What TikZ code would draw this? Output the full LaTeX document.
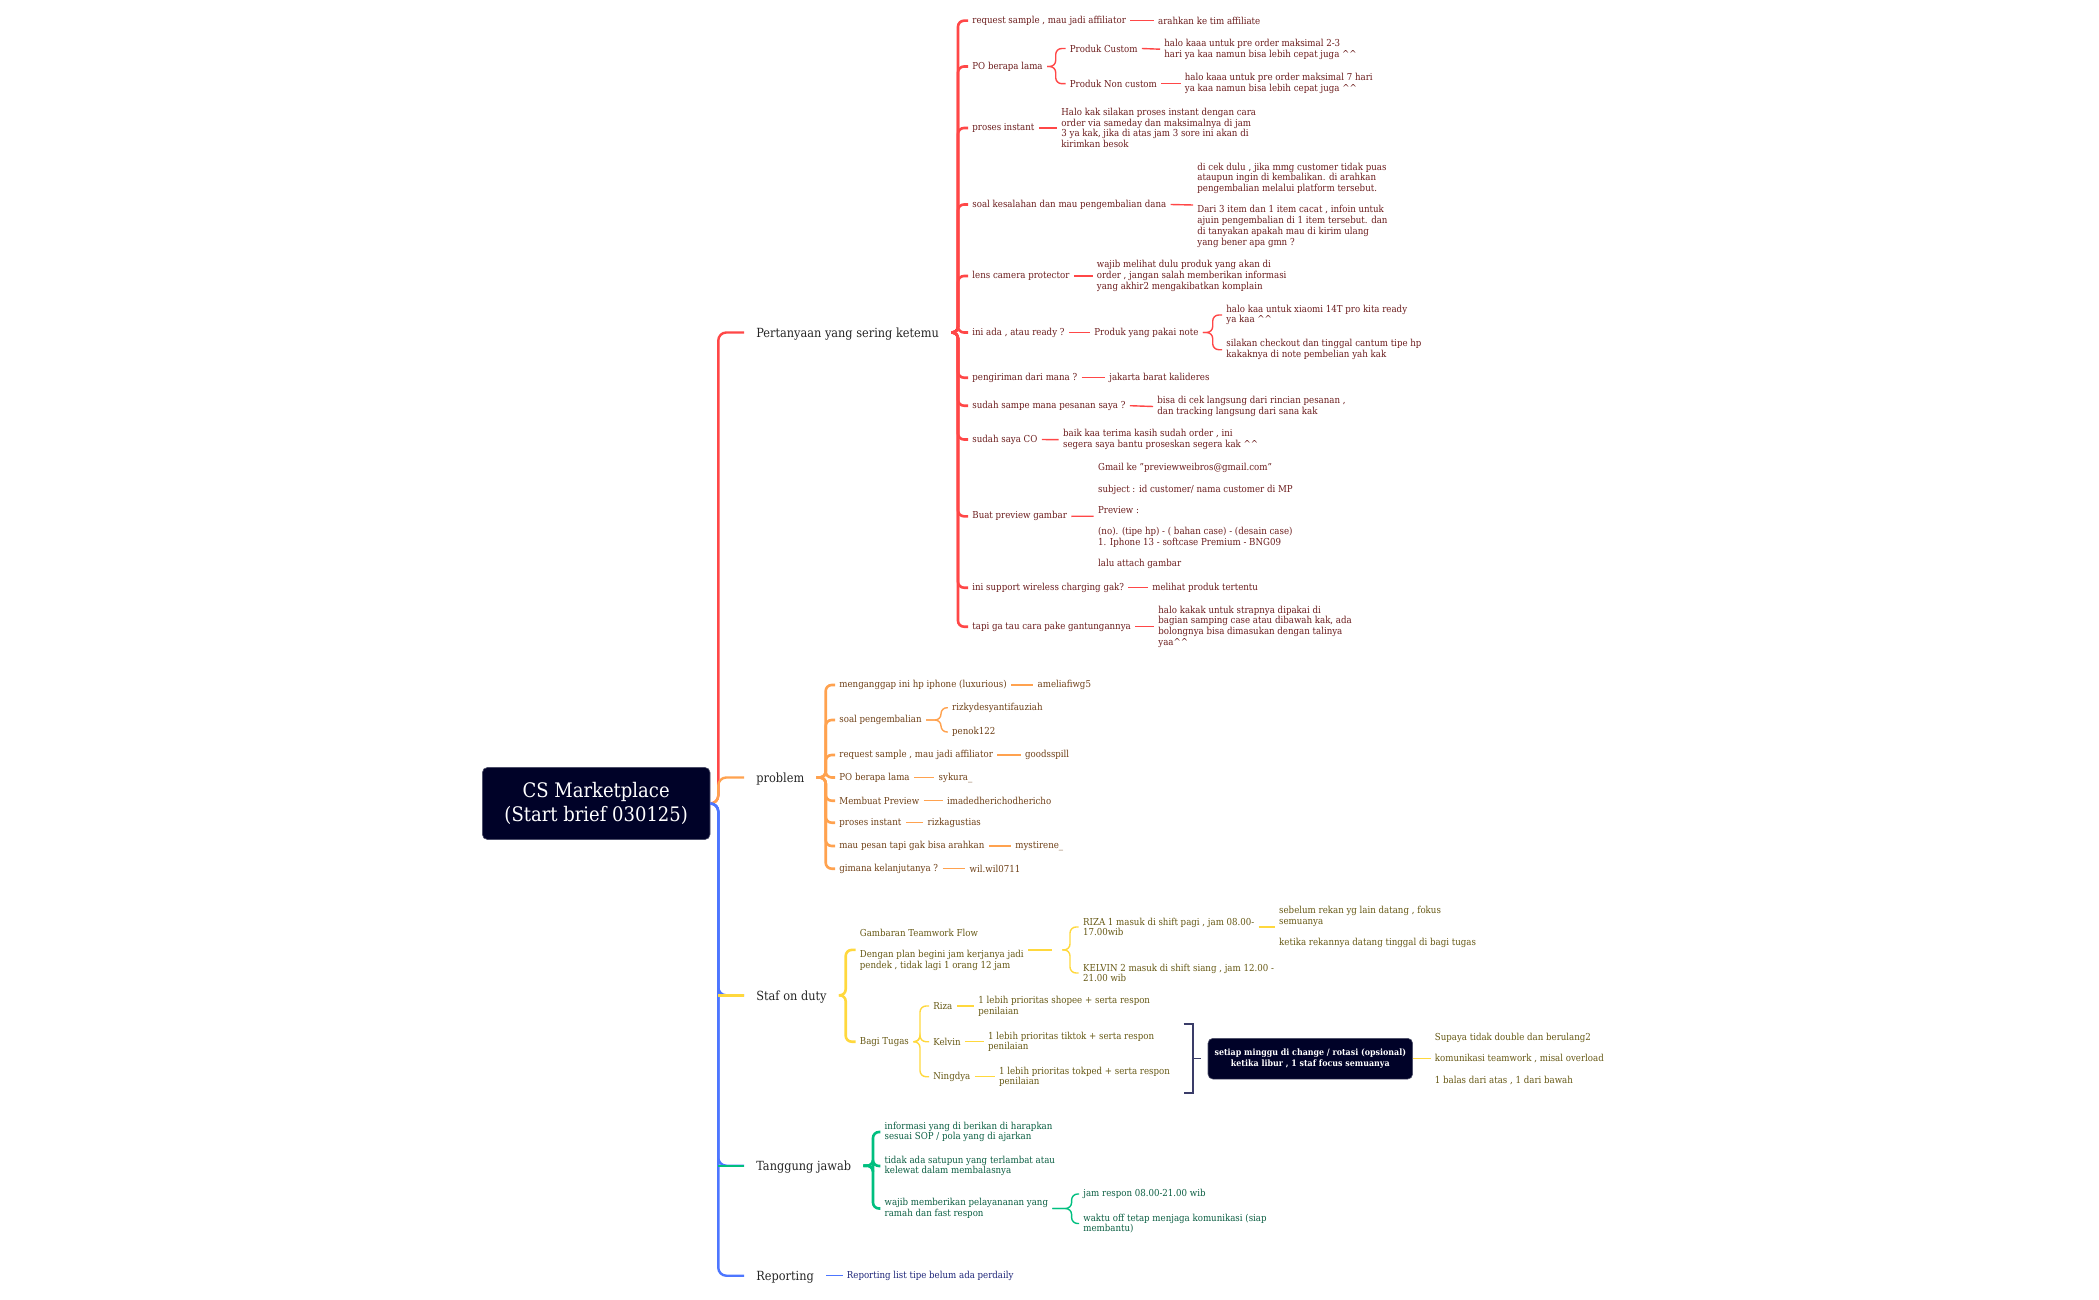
\documentclass[tikz,border=0pt]{standalone}
\usepackage{fontspec}
\usepackage{xcolor}
\setmainfont{DejaVu Serif Condensed}
\usetikzlibrary{positioning}
\definecolor{inkroot}{HTML}{000228}
\definecolor{redline}{HTML}{FF4747}
\definecolor{redtext}{HTML}{6B1C1C}
\definecolor{orgline}{HTML}{FFA24F}
\definecolor{orgtext}{HTML}{6E3F16}
\definecolor{yelline}{HTML}{FFD83D}
\definecolor{yeltext}{HTML}{665814}
\definecolor{grnline}{HTML}{00BF7F}
\definecolor{grntext}{HTML}{0B5E42}
\definecolor{bluline}{HTML}{4D76FF}
\definecolor{blutext}{HTML}{1C2478}
\definecolor{bktline}{HTML}{3A3C68}
\tikzset{
  txt/.style={anchor=west,align=left,inner ysep=0pt,inner xsep=2pt,font=\fontsize{4.8}{5.35}\selectfont},
  topic/.style={anchor=west,inner ysep=0pt,inner xsep=6pt,text=black!85,text height=6.2pt,text depth=1.5pt,font=\fontsize{6.3}{7}\selectfont},
  rootbox/.style={fill=inkroot,draw=inkroot!70,line width=0.3pt,rounded corners=2.5pt,align=center,text=white,inner sep=0pt},
  wire/.style={rounded corners=3pt,line width=0.7pt},
  trunk/.style={rounded corners=3pt,line width=1.3pt},
  big/.style={rounded corners=4pt,line width=1.2pt}
}
\newcommand{\caret}{\char94\relax}
% parent, trunk coordinate, children
\newcommand{\fork}[4][]{\foreach \kid in {#4}{\draw[#1] (#2.east) -- (#3 |- #2.east) -- (#3 |- \kid.west) -- (\kid.west);}}
\begin{document}
\begin{tikzpicture}[x=0.5pt,y=-0.5pt]
  \useasboundingbox (0,0) rectangle (2099,1300);

  % Root
  \node[rootbox,minimum width=113.8pt,minimum height=36pt,font=\fontsize{10}{11.8}\selectfont] (root) at (596.2,803.5) {CS Marketplace\\(Start brief 030125)};
  \coordinate (tmain) at (718.3,0);

  % Topics
  \node[topic] (tanya) at (744,332.5) {Pertanyaan yang sering ketemu};
  \node[topic] (problem) at (744,777.5) {problem};
  \node[topic] (staf) at (744,995.3) {Staf on duty};
  \node[topic] (tanggung) at (744,1165.7) {Tanggung jawab};
  \node[topic] (reporting) at (744,1275.7) {Reporting};

  % Pertanyaan
  \begin{scope}[every node/.append style={text=redtext}]
    \coordinate (tred) at (958,0);
    \coordinate (tpo) at (1055.7,0);
    \coordinate (tnote) at (1212.7,0);
    \node[txt] (sample) at (968,20.7) {request sample , mau jadi affiliator};
    \node[txt] (sampleA) at (1153.7,20.7) {arahkan ke tim affiliate};
    \node[txt] (po) at (968,66.5) {PO berapa lama};
    \node[txt] (custom) at (1065.5,48.5) {Produk Custom};
    \node[txt] (customA) at (1160,49.2) {halo kaaa untuk pre order maksimal 2-3\\hari ya kaa namun bisa lebih cepat juga \caret\caret};
    \node[txt] (noncustom) at (1065.5,83.7) {Produk Non custom};
    \node[txt] (noncustomA) at (1180.5,83.7) {halo kaaa untuk pre order maksimal 7 hari\\ya kaa namun bisa lebih cepat juga \caret\caret};
    \node[txt] (instant) at (968,128) {proses instant};
    \node[txt] (instantA) at (1057,128) {Halo kak silakan proses instant dengan cara\\order via sameday dan maksimalnya di jam\\3 ya kak, jika di atas jam 3 sore ini akan di\\kirimkan besok};
    \node[txt] (dana) at (968,204.5) {soal kesalahan dan mau pengembalian dana};
    \node[txt] (danaA) at (1193,205) {di cek dulu , jika mmg customer tidak puas\\ataupun ingin di kembalikan. di arahkan\\pengembalian melalui platform tersebut.\\[5.35pt]Dari 3 item dan 1 item cacat , infoin untuk\\ajuin pengembalian di 1 item tersebut. dan\\di tanyakan apakah mau di kirim ulang\\yang bener apa gmn ?};
    \node[txt] (lens) at (968,276) {lens camera protector};
    \node[txt] (lensA) at (1092.5,276) {wajib melihat dulu produk yang akan di\\order , jangan salah memberikan informasi\\yang akhir2 mengakibatkan komplain};
    \node[txt] (ready) at (968,332.5) {ini ada , atau ready ?};
    \node[txt] (note) at (1090,332.5) {Produk yang pakai note};
    \node[txt] (noteA) at (1222,315) {halo kaa untuk  xiaomi 14T pro kita ready\\ya kaa \caret\caret};
    \node[txt] (noteB) at (1222,349.7) {silakan checkout dan tinggal cantum tipe hp\\kakaknya di note pembelian yah kak};
    \node[txt] (kirim) at (968,377.7) {pengiriman dari mana ?};
    \node[txt] (kirimA) at (1105,377.7) {jakarta barat kalideres};
    \node[txt] (sampe) at (968,405.7) {sudah sampe mana pesanan saya ?};
    \node[txt] (sampeA) at (1153,406.5) {bisa di cek langsung dari rincian pesanan ,\\dan tracking langsung dari sana kak};
    \node[txt] (co) at (968,439.5) {sudah saya CO};
    \node[txt] (coA) at (1058.7,439.7) {baik kaa terima kasih sudah order , ini\\segera saya bantu proseskan segera kak \caret\caret};
    \node[txt] (preview) at (968,516.3) {Buat preview gambar};
    \node[txt] (previewA) at (1093.7,516.2) {Gmail ke "previewweibros@gmail.com"\\[5.35pt]subject : id customer/ nama customer di MP\\[5.35pt]Preview :\\[5.35pt](no). (tipe hp) - ( bahan case) - (desain case)\\1. Iphone 13 - softcase Premium - BNG09\\[5.35pt]lalu attach gambar};
    \node[txt] (wireless) at (968,587.7) {ini support wireless charging gak?};
    \node[txt] (wirelessA) at (1148,587.7) {melihat produk tertentu};
    \node[txt] (strap) at (968,626.7) {tapi ga tau cara pake gantungannya};
    \node[txt] (strapA) at (1154,626.7) {halo kakak untuk strapnya dipakai di\\bagian samping case atau dibawah kak, ada\\bolongnya bisa dimasukan dengan talinya\\yaa\caret\caret};
  \end{scope}

  % problem
  \begin{scope}[every node/.append style={text=orgtext}]
    \coordinate (torg) at (825.7,0);
    \coordinate (tkembali) at (941,0);
    \node[txt] (iphone) at (835,685) {menganggap ini hp iphone (luxurious)};
    \node[txt] (iphoneA) at (1033.3,685) {ameliafiwg5};
    \node[txt] (kembali) at (835,720) {soal pengembalian};
    \node[txt] (rizky) at (947.8,707.7) {rizkydesyantifauziah};
    \node[txt] (penok) at (947.8,732) {penok122};
    \node[txt] (sampleB) at (835,755) {request sample , mau jadi affiliator};
    \node[txt] (goods) at (1020.7,755) {goodsspill};
    \node[txt] (poB) at (835,777.5) {PO berapa lama};
    \node[txt] (sykura) at (934.3,777.5) {sykura\_};
    \node[txt] (membuat) at (835,800.7) {Membuat Preview};
    \node[txt] (imade) at (942.7,800.7) {imadedherichodhericho};
    \node[txt] (instantB) at (835,822.7) {proses instant};
    \node[txt] (rizka) at (923.3,822.7) {rizkagustias};
    \node[txt] (pesan) at (835,846) {mau pesan tapi gak bisa arahkan};
    \node[txt] (mysti) at (1010.9,846) {mystirene\_};
    \node[txt] (lanjut) at (835,868.7) {gimana kelanjutanya ?};
    \node[txt] (wil) at (965.3,868.7) {wil.wil0711};
  \end{scope}

  % Staf on duty
  \begin{scope}[every node/.append style={text=yeltext}]
    \coordinate (tyel) at (845.7,0);
    \coordinate (tflow) at (1070,0);
    \coordinate (ttugas) at (920,0);
    \node[txt] (flow) at (855.5,949.9) {Gambaran Teamwork Flow\\[5.35pt]Dengan plan begini jam kerjanya jadi\\pendek , tidak lagi 1 orang 12 jam};
    \node[inner sep=0pt,minimum width=5pt] (flowgap) at (1057,949.9) {};
    \node[txt] (riza1) at (1078.7,927) {RIZA 1 masuk di shift pagi , jam 08.00-\\17.00wib};
    \node[txt] (kelvin2) at (1078.7,973) {KELVIN 2 masuk di shift siang , jam 12.00 -\\21.00 wib};
    \node[txt] (sebelum) at (1274.8,927) {sebelum rekan yg lain datang , fokus\\semuanya\\[5.35pt]ketika rekannya datang tinggal di bagi tugas};
    \node[txt] (tugas) at (855.5,1041.7) {Bagi Tugas};
    \node[txt] (riza) at (929,1006) {Riza};
    \node[txt] (rizaA) at (974,1006) {1 lebih prioritas shopee + serta respon\\penilaian};
    \node[txt] (kelvin) at (929,1041.7) {Kelvin};
    \node[txt] (kelvinA) at (983.7,1041.7) {1 lebih prioritas tiktok + serta respon\\penilaian};
    \node[txt] (ningdya) at (929,1076.7) {Ningdya};
    \node[txt] (ningdyaA) at (994.7,1076.7) {1 lebih prioritas tokped + serta respon\\penilaian};
    \node[rootbox,minimum width=102.3pt,minimum height=20.4pt,font=\fontsize{4.4}{5.5}\bfseries\selectfont] (rotasi) at (1310.3,1058.7) {setiap minggu di change / rotasi (opsional)\\ketika libur , 1 staf focus semuanya};
    \node[txt] (alasan) at (1430.5,1058.7) {Supaya tidak double dan berulang2\\[5.35pt]komunikasi teamwork , misal overload\\[5.35pt]1 balas dari atas , 1 dari bawah};
  \end{scope}
  \coordinate (bktop) at (1183.7,1024);
  \coordinate (bkbot) at (1183.7,1092.7);
  \coordinate (bkx) at (1192.7,1058.7);

  % Tanggung jawab
  \begin{scope}[every node/.append style={text=grntext}]
    \coordinate (tgrn) at (873,0);
    \coordinate (tramah) at (1071.6,0);
    \node[txt] (info) at (880.3,1132) {informasi yang di berikan di harapkan\\sesuai SOP / pola yang di ajarkan};
    \node[txt] (telat) at (880.3,1166) {tidak ada satupun yang terlambat atau\\kelewat dalam membalasnya};
    \node[txt] (ramah) at (880.3,1208.5) {wajib memberikan pelayananan yang\\ramah dan fast respon};
    \node[txt] (jam) at (1079,1194) {jam respon 08.00-21.00 wib};
    \node[txt] (off) at (1079,1223.5) {waktu off  tetap menjaga komunikasi (siap\\membantu)};
  \end{scope}

  % Reporting
  \node[txt,text=blutext] (list) at (842.5,1275.7) {Reporting list tipe belum ada perdaily};

  % Connectors from the root
  \fork[big,redline]{root}{tmain}{tanya}
  \fork[big,orgline]{root}{tmain}{problem}
  \fork[big,bluline]{root}{tmain}{staf,tanggung,reporting}
  \draw[big,yelline] (tmain |- staf.west) -- (staf.west);
  \draw[big,grnline] (tmain |- tanggung.west) -- (tanggung.west);

  % Connectors in Pertanyaan
  \fork[trunk,redline]{tanya}{tred}{sample,po,instant,dana,lens,ready,kirim,sampe,co,preview,wireless,strap}
  \fork[wire,redline]{po}{tpo}{custom,noncustom}
  \fork[wire,redline]{note}{tnote}{noteA,noteB}
  \foreach \a/\b in {sample/sampleA,custom/customA,noncustom/noncustomA,instant/instantA,dana/danaA,lens/lensA,ready/note,kirim/kirimA,sampe/sampeA,co/coA,preview/previewA,wireless/wirelessA,strap/strapA}
    \draw[wire,redline] (\a.east) -- (\b.west);

  % Connectors in problem
  \fork[trunk,orgline]{problem}{torg}{iphone,kembali,sampleB,poB,membuat,instantB,pesan,lanjut}
  \fork[wire,orgline]{kembali}{tkembali}{rizky,penok}
  \foreach \a/\b in {iphone/iphoneA,sampleB/goods,poB/sykura,membuat/imade,instantB/rizka,pesan/mysti,lanjut/wil}
    \draw[wire,orgline] (\a.east) -- (\b.west);

  % Connectors in Staf on duty
  \fork[trunk,yelline]{staf}{tyel}{flow,tugas}
  \draw[wire,yelline] (flow.east) -- (flowgap.west);
  \fork[wire,yelline]{flowgap}{tflow}{riza1,kelvin2}
  \draw[wire,yelline] (riza1.east) -- (sebelum.west);
  \fork[wire,yelline]{tugas}{ttugas}{riza,kelvin,ningdya}
  \foreach \a/\b in {riza/rizaA,kelvin/kelvinA,ningdya/ningdyaA,rotasi/alasan}
    \draw[wire,yelline] (\a.east) -- (\b.west);
  \draw[line width=0.9pt,bktline] (bktop) -- (bktop -| bkx) -- (bkbot -| bkx) -- (bkbot);
  \draw[line width=0.7pt,bktline,shorten >=3.5pt] (bkx) -- (rotasi.west);

  % Connectors in Tanggung jawab
  \fork[trunk,grnline]{tanggung}{tgrn}{info,telat,ramah}
  \fork[wire,grnline]{ramah}{tramah}{jam,off}

  % Connector in Reporting
  \draw[wire,bluline] (reporting.east) -- (list.west);
\end{tikzpicture}
\end{document}
